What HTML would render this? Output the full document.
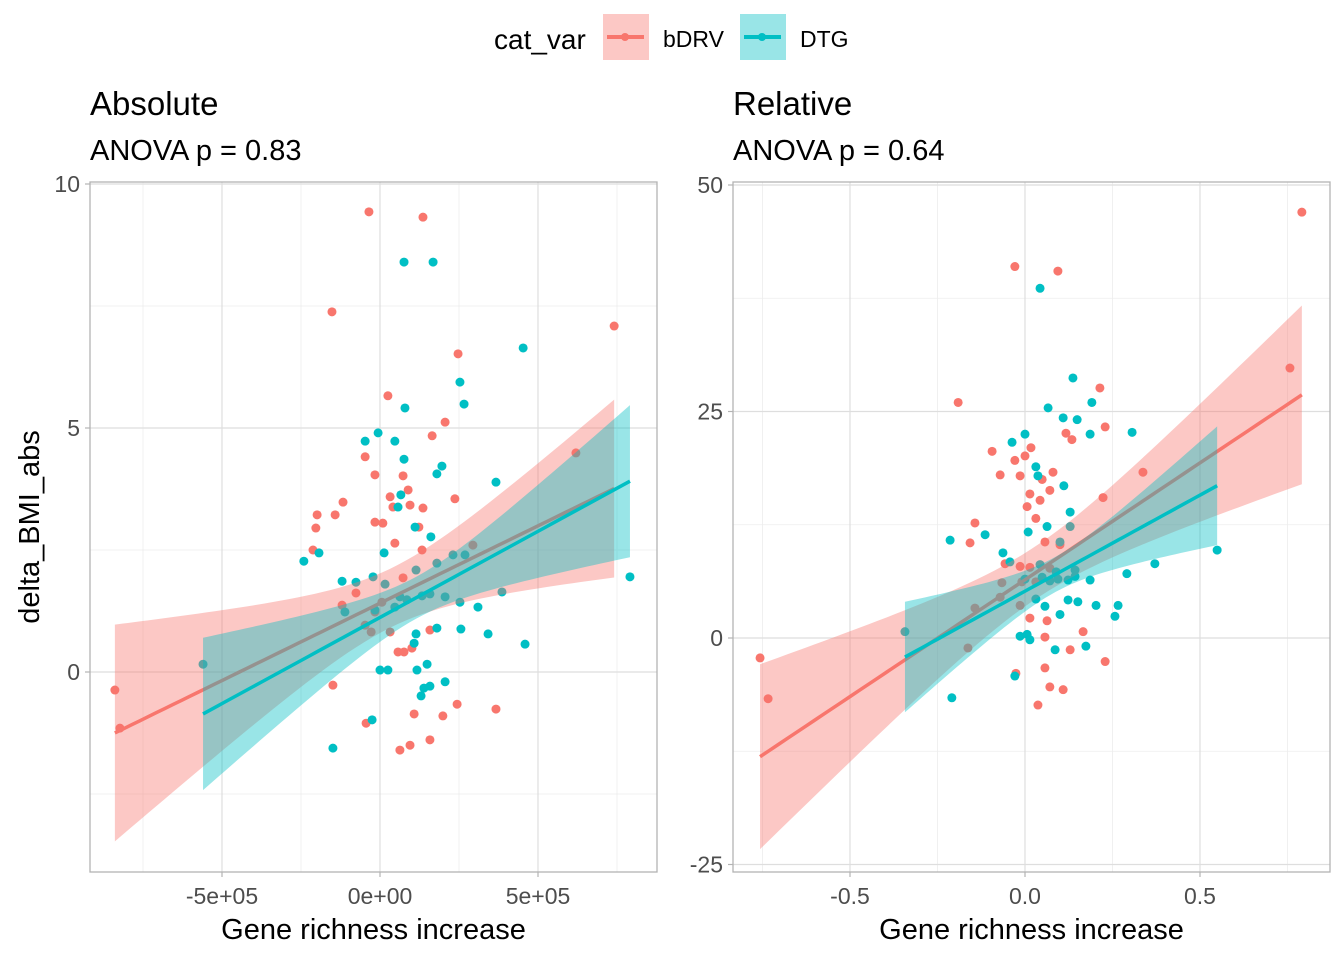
<!DOCTYPE html>
<html><head><meta charset="utf-8"><style>
body{margin:0;background:#fff}
svg{display:block;font-family:"Liberation Sans",Arial,sans-serif}
</style></head><body>
<svg id="c" width="1344" height="960" viewBox="0 0 1344 960" xmlns="http://www.w3.org/2000/svg">
<rect width="1344" height="960" fill="#fff"/>
<g>
<text x="494" y="49" font-size="28" fill="#000">cat_var</text>
<g>
<rect x="603" y="14" width="46" height="46" fill="#F8766D" fill-opacity="0.4"/>
<line x1="607" y1="37" x2="644" y2="37" stroke="#F8766D" stroke-width="4"/>
<circle cx="625" cy="37" r="4" fill="#F8766D"/>
<text x="663" y="47" font-size="23" fill="#000">bDRV</text>
</g>
<g>
<rect x="740" y="14" width="46" height="46" fill="#00BFC4" fill-opacity="0.4"/>
<line x1="744" y1="37" x2="781" y2="37" stroke="#00BFC4" stroke-width="4"/>
<circle cx="762" cy="37" r="4" fill="#00BFC4"/>
<text x="800" y="47" font-size="23" fill="#000">DTG</text>
</g>
</g>
<g id="p1"></g><g id="p2"></g>
<text transform="translate(39,527) rotate(-90)" text-anchor="middle" font-size="29" fill="#000">delta_BMI_abs</text>
</svg>
<script>
// Absolute panel data (x in units of 1e5)
const absRedX=[-8.39,-8.23,-1.52,-0.35,1.36,7.41,2.47,0.25,2.06,1.65,-0.47,-0.16,0.73,0.32,0.89,-1.17,0.41,0.95,1.36,2.37,-1.99,-1.42,-0.16,0.09,1.23,0.47,-2.03,-2.12,1.33,2.94,0.73,-0.76,-1.20,0.06,-0.16,-0.47,-0.28,0.32,1.58,1.01,0.57,0.76,-1.49,-0.44,1.08,1.99,2.44,3.67,0.63,0.95,1.58,6.20];
const absRedY=[-0.37,-1.15,7.38,9.43,9.32,7.09,6.52,5.66,5.12,4.84,4.41,4.04,4.02,3.59,3.73,3.48,3.38,3.42,3.36,3.55,3.22,3.22,3.07,3.05,2.97,2.64,2.95,2.50,2.50,2.60,1.93,1.62,1.37,1.43,1.23,0.96,0.82,0.82,0.86,0.49,0.41,0.41,-0.27,-1.05,-0.86,-0.90,-0.66,-0.76,-1.60,-1.50,-1.39,4.49];
const absTealX=[0.76,1.68,4.53,2.53,2.66,0.79,-0.47,-0.06,0.47,0.76,1.96,1.80,0.66,0.57,1.61,1.11,0.13,-2.41,-1.93,-1.20,-0.76,-0.22,0.16,1.14,1.80,2.31,2.69,3.67,3.86,0.63,0.85,1.33,1.58,2.06,2.53,3.10,-0.16,0.47,-1.11,3.42,1.80,2.56,1.14,1.08,0.00,0.25,1.17,1.49,2.06,1.39,1.58,1.30,4.59,-0.25,-1.49,-5.60,7.91];
const absTealY=[8.40,8.40,6.64,5.94,5.49,5.41,4.73,4.90,4.73,4.36,4.22,4.06,3.63,3.38,2.77,2.97,2.44,2.27,2.44,1.86,1.84,1.95,1.80,2.09,2.23,2.40,2.40,3.89,1.64,1.54,1.48,1.56,1.60,1.54,1.43,1.33,1.27,1.33,1.23,0.78,0.90,0.88,0.78,0.59,0.04,0.04,0.04,0.16,-0.20,-0.33,-0.29,-0.49,0.57,-0.98,-1.56,0.16,1.95];
// Relative panel data
const relRedX=[-0.757,-0.734,0.791,0.757,-0.029,0.094,-0.191,0.214,-0.094,0.017,-0.029,0,0.080,0.049,-0.071,-0.014,0.134,0.117,0.229,0.337,0.014,0.043,0.071,0.223,0.006,0.031,-0.143,-0.157,0.057,0.100,-0.057,-0.014,0.014,0.071,-0.066,-0.009,0.031,-0.071,-0.014,-0.143,0.014,0.063,0.057,0.166,0.129,0.229,0.057,-0.026,0.071,0.109,0.037,-0.163];
const relRedY=[-2.2,-6.7,47.0,29.8,41.0,40.5,26.0,27.6,20.6,21.0,19.6,20.1,18.3,17.5,18.0,17.9,21.9,22.6,23.3,18.3,15.9,15.2,16.3,15.5,14.5,13.2,12.7,10.5,10.6,10.3,8.2,7.9,7.8,7.7,6.1,6.2,6.2,4.5,3.6,3.3,2.2,1.9,0.1,0.7,-1.3,-2.6,-3.3,-3.9,-5.4,-5.7,-7.4,-1.1];
const relTealX=[0.043,0.137,0.066,0.109,0.149,0.191,0.186,0.306,0,-0.037,0.031,0.037,0.111,0.129,0.063,0.129,0.009,0.100,-0.214,-0.114,-0.063,-0.043,0.043,0.089,0.143,0.291,0.371,0,0.049,0.071,0.094,0.123,0.143,0.186,0.031,0.123,0.151,0.203,0.266,0.057,0.100,0.257,0.006,-0.014,0.174,0.086,-0.029,-0.209,-0.343,0.549,0.014];
const relTealY=[38.6,28.7,25.4,24.3,24.1,26.0,22.5,22.7,22.5,21.6,18.9,17.9,16.8,13.9,12.3,12.3,11.7,10.6,10.8,11.4,9.4,8.4,8.1,7.3,7.5,7.1,8.2,6.5,6.7,6.3,6.5,6.4,6.8,6.4,4.3,4.2,4.0,3.6,3.6,3.5,2.6,2.4,0.4,0.2,-0.9,-1.3,-4.2,-6.6,0.7,9.7,-0.2];
// Fitted trend lines: [intercept, slope, CI width factor]
const absRedFit=[1.41,0.317,0.78];
const absTealFit=[1.118,0.353,0.7];
const relRedFit=[6.43,25.8,0.86];
const relTealFit=[5.17,21.2,0.68];
const absXTicks=[-5,0,5], absXTickLabels=["-5e+05","0e+00","5e+05"], absXMinor=[-7.5,-2.5,2.5,7.5];
const absYTicks=[0,5,10], absYMinor=[-2.5,2.5,7.5];
const relXTicks=[-0.5,0,0.5], relXTickLabels=["-0.5","0.0","0.5"], relXMinor=[-0.75,-0.25,0.25,0.75];
const relYTicks=[-25,0,25,50], relYMinor=[-12.5,12.5,37.5];
const NS='http://www.w3.org/2000/svg';
function mk(parent,tag,attrs,text){const e=document.createElementNS(NS,tag);for(const k in attrs)e.setAttribute(k,attrs[k]);if(text!==undefined)e.textContent=text;parent.appendChild(e);return e;}
function fit(xs,ys,ab){const n=xs.length;const mx=xs.reduce((a,b)=>a+b,0)/n;let sxx=0;for(let i=0;i<n;i++)sxx+=(xs[i]-mx)**2;const a=ab[0],b=ab[1];let sse=0;for(let i=0;i<n;i++)sse+=(ys[i]-a-b*xs[i])**2;const s=Math.sqrt(sse/(n-2))*ab[2];return{a,b,mx,sxx,s,n,min:Math.min(...xs),max:Math.max(...xs)};}
function panel(g,cfg){
 const {L,R,T,B,sx,sy}=cfg;
 mk(g,'rect',{x:L,y:T,width:R-L,height:B-T,fill:'#fff'});
 const grid=mk(g,'g',{});
 
 
 cfg.xMinor.forEach(v=>{const x=sx(v);if(x>L&&x<R)mk(grid,'line',{x1:x,x2:x,y1:T,y2:B,stroke:'#ededed','stroke-width':0.8});});
 cfg.yMinor.forEach(v=>{const y=sy(v);if(y>T&&y<B)mk(grid,'line',{x1:L,x2:R,y1:y,y2:y,stroke:'#ededed','stroke-width':0.8});});
 cfg.xTicks.forEach(v=>{const x=sx(v);mk(grid,'line',{x1:x,x2:x,y1:T,y2:B,stroke:'#dedede','stroke-width':1.2});});
 cfg.yTicks.forEach(v=>{const y=sy(v);mk(grid,'line',{x1:L,x2:R,y1:y,y2:y,stroke:'#dedede','stroke-width':1.2});});
 const pts=mk(g,'g',{});
 
 
 cfg.series.forEach(se=>{se.x.forEach((v,i)=>{const c=mk(pts,'circle',{cx:sx(v),cy:sy(se.y[i]),r:4.5,fill:se.col});
  
  });});
 cfg.series.forEach(se=>{const f=fit(se.x,se.y,se.fit);const N=60;const up=[],lo=[],ln=[];
  for(let k=0;k<=N;k++){const x=f.min+(f.max-f.min)*k/N;const yh=f.a+f.b*x;const e=2.01*f.s*Math.sqrt(1/f.n+(x-f.mx)**2/f.sxx);up.push(sx(x)+','+sy(yh+e));lo.unshift(sx(x)+','+sy(yh-e));ln.push(sx(x)+','+sy(yh));}
  const rib=mk(g,'polygon',{points:up.concat(lo).join(' '),fill:se.col,'fill-opacity':0.4});
  
  
  const pl=mk(g,'polyline',{points:ln.join(' '),fill:'none',stroke:se.col,'stroke-width':3.5});
  
  });
 mk(g,'rect',{x:L,y:T,width:R-L,height:B-T,fill:'none',stroke:'#b3b3b3','stroke-width':1.3});
 cfg.xTicks.forEach((v,i)=>{const x=sx(v);mk(g,'line',{x1:x,x2:x,y1:B,y2:B+5,stroke:'#b3b3b3','stroke-width':1.2});
  const t=mk(g,'text',{x:x,y:B+32,'text-anchor':'middle','font-size':23,fill:'#4d4d4d'},cfg.xLabels[i]);
  
  });
 cfg.yTicks.forEach(v=>{const y=sy(v);mk(g,'line',{x1:L-5,x2:L,y1:y,y2:y,stroke:'#b3b3b3','stroke-width':1.2});
  const t=mk(g,'text',{x:L-10,y:y+8,'text-anchor':'end','font-size':23,fill:'#4d4d4d'},String(v));
  
  });
 const xt=mk(g,'text',{x:(L+R)/2,y:B+67,'text-anchor':'middle','font-size':29,fill:'#000'},'Gene richness increase');
 
 
 const tt=mk(g,'text',{x:L,y:115,'font-size':33,fill:'#000'},cfg.title);
 
 
 const st=mk(g,'text',{x:L,y:160,'font-size':29,fill:'#000'},cfg.sub);
 
 
}
const g1=document.getElementById('p1');


panel(g1,{L:90,R:657,T:182,B:872,sx:v=>380+v*31.6,sy:v=>672-v*48.8,xTicks:absXTicks,xLabels:absXTickLabels,xMinor:absXMinor,yTicks:absYTicks,yMinor:absYMinor,title:'Absolute',sub:'ANOVA p = 0.83',
 series:[{name:'bdrv',col:'#F8766D',x:absRedX,y:absRedY,fit:absRedFit},{name:'dtg',col:'#00BFC4',x:absTealX,y:absTealY,fit:absTealFit}]});
const g2=document.getElementById('p2');


panel(g2,{L:733,R:1330,T:182,B:872,sx:v=>1025+v*350,sy:v=>638-v*9.06,xTicks:relXTicks,xLabels:relXTickLabels,xMinor:relXMinor,yTicks:relYTicks,yMinor:relYMinor,title:'Relative',sub:'ANOVA p = 0.64',
 series:[{name:'bdrv',col:'#F8766D',x:relRedX,y:relRedY,fit:relRedFit},{name:'dtg',col:'#00BFC4',x:relTealX,y:relTealY,fit:relTealFit}]});
</script>
</body></html>
